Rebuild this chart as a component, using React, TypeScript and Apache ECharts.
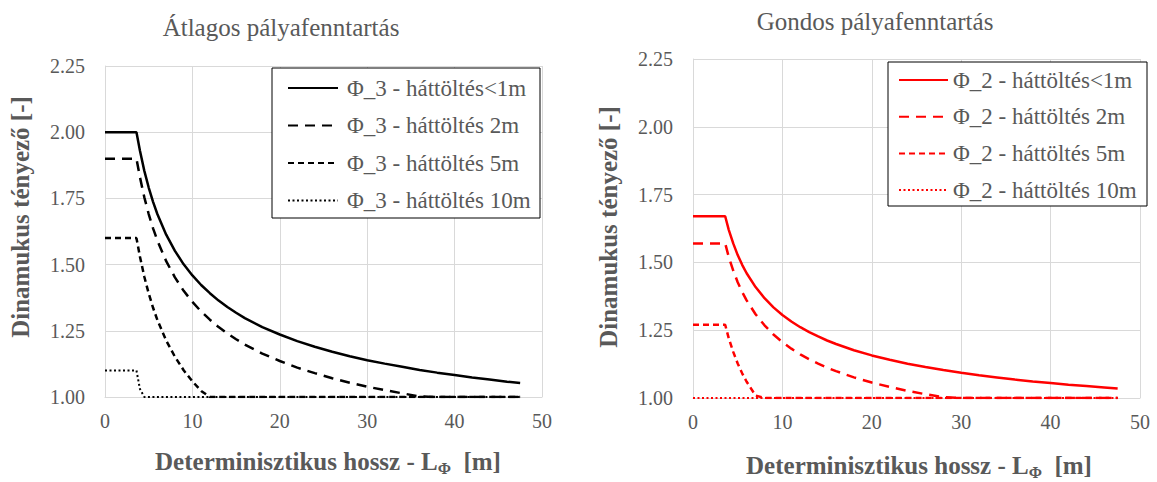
import React, { useEffect, useRef } from "react";
import * as echarts from "echarts";

// Determinisztikus hossz L_Φ [m]
const lengths = [0, 3.6, 4, 4.5, 5, 5.5, 6, 7, 8, 9, 10, 11, 12, 13, 14, 15, 16, 18, 20, 22, 24, 26, 28, 30, 32, 34, 36, 38, 40, 42, 44, 46, 47.5];

// Átlagos pályafenntartás (Φ_3)
const phi3Lt1 = [2.0, 2.0, 1.93, 1.854, 1.791, 1.737, 1.69, 1.613, 1.552, 1.501, 1.459, 1.423, 1.392, 1.364, 1.34, 1.318, 1.298, 1.264, 1.236, 1.211, 1.19, 1.171, 1.154, 1.139, 1.126, 1.114, 1.102, 1.092, 1.083, 1.074, 1.066, 1.058, 1.053];
const phi3H2 = [1.9, 1.9, 1.83, 1.754, 1.691, 1.637, 1.59, 1.513, 1.452, 1.401, 1.359, 1.323, 1.292, 1.264, 1.24, 1.218, 1.198, 1.164, 1.136, 1.111, 1.09, 1.071, 1.054, 1.039, 1.026, 1.014, 1.002, 1.0, 1.0, 1.0, 1.0, 1.0, 1.0];
const phi3H5 = [1.6, 1.6, 1.53, 1.454, 1.391, 1.337, 1.29, 1.213, 1.152, 1.101, 1.059, 1.023, 1.0, 1.0, 1.0, 1.0, 1.0, 1.0, 1.0, 1.0, 1.0, 1.0, 1.0, 1.0, 1.0, 1.0, 1.0, 1.0, 1.0, 1.0, 1.0, 1.0, 1.0];
const phi3H10 = [1.1, 1.1, 1.03, 1.0, 1.0, 1.0, 1.0, 1.0, 1.0, 1.0, 1.0, 1.0, 1.0, 1.0, 1.0, 1.0, 1.0, 1.0, 1.0, 1.0, 1.0, 1.0, 1.0, 1.0, 1.0, 1.0, 1.0, 1.0, 1.0, 1.0, 1.0, 1.0, 1.0];

// Gondos pályafenntartás (Φ_2)
const phi2Lt1 = [1.67, 1.67, 1.62, 1.57, 1.527, 1.491, 1.46, 1.409, 1.368, 1.334, 1.306, 1.282, 1.261, 1.243, 1.227, 1.212, 1.199, 1.176, 1.157, 1.141, 1.126, 1.114, 1.103, 1.093, 1.084, 1.076, 1.068, 1.061, 1.055, 1.049, 1.044, 1.039, 1.035];
const phi2H2 = [1.57, 1.57, 1.52, 1.47, 1.427, 1.391, 1.36, 1.309, 1.268, 1.234, 1.206, 1.182, 1.161, 1.143, 1.127, 1.112, 1.099, 1.076, 1.057, 1.041, 1.026, 1.014, 1.003, 1.0, 1.0, 1.0, 1.0, 1.0, 1.0, 1.0, 1.0, 1.0, 1.0];
const phi2H5 = [1.27, 1.27, 1.22, 1.17, 1.127, 1.091, 1.06, 1.009, 1.0, 1.0, 1.0, 1.0, 1.0, 1.0, 1.0, 1.0, 1.0, 1.0, 1.0, 1.0, 1.0, 1.0, 1.0, 1.0, 1.0, 1.0, 1.0, 1.0, 1.0, 1.0, 1.0, 1.0, 1.0];
const phi2H10 = [1.0, 1.0, 1.0, 1.0, 1.0, 1.0, 1.0, 1.0, 1.0, 1.0, 1.0, 1.0, 1.0, 1.0, 1.0, 1.0, 1.0, 1.0, 1.0, 1.0, 1.0, 1.0, 1.0, 1.0, 1.0, 1.0, 1.0, 1.0, 1.0, 1.0, 1.0, 1.0, 1.0];

const namesLeft = ["Φ_3 - háttöltés<1m", "Φ_3 - háttöltés 2m", "Φ_3 - háttöltés 5m", "Φ_3 - háttöltés 10m"];
const namesRight = ["Φ_2 - háttöltés<1m", "Φ_2 - háttöltés 2m", "Φ_2 - háttöltés 5m", "Φ_2 - háttöltés 10m"];
const titleLeft = "Átlagos pályafenntartás";
const titleRight = "Gondos pályafenntartás";
const yTitle = "Dinamukus tényező [-]";

const FONT = "Liberation Serif";
const GRAY = "#595959";
const GRID = "#d9d9d9";

const dashTypes: any[] = ["solid", [10, 7], [6, 4], [2, 2.5]];
const widths = [2.5, 2.5, 2.5, 2];

export default function App() {
  const ref = useRef<HTMLDivElement>(null);
  useEffect(() => {
    if (!ref.current) return;
    const chart = echarts.init(ref.current, null, { renderer: "svg" });
    const pair = (ys: number[]) => lengths.map((x, i) => [x, ys[i]]);

    const xAxisBase = {
      type: "value",
      min: 0,
      max: 50,
      interval: 10,
      axisLine: { show: true, lineStyle: { color: GRID, width: 1 } },
      axisTick: { show: false },
      axisLabel: { color: GRAY, fontFamily: FONT, fontSize: 20, margin: 14 },
      splitLine: { show: true, lineStyle: { color: GRID, width: 1 } },
    };
    const yAxisBase = {
      type: "value",
      min: 1,
      max: 2.25,
      interval: 0.25,
      axisLine: { show: true, lineStyle: { color: GRID, width: 1 } },
      axisTick: { show: false },
      axisLabel: {
        color: GRAY,
        fontFamily: FONT,
        fontSize: 20,
        margin: 20,
        formatter: (v: number) => v.toFixed(2),
      },
      splitLine: { show: true, lineStyle: { color: GRID, width: 1 } },
    };

    const leftData = [phi3Lt1, phi3H2, phi3H5, phi3H10];
    const rightData = [phi2Lt1, phi2H2, phi2H5, phi2H10];

    const series: any[] = [];
    leftData.forEach((d, i) => {
      series.push({
        type: "line",
        name: namesLeft[i],
        xAxisIndex: 0,
        yAxisIndex: 0,
        data: pair(d),
        symbol: "none",
        lineStyle: { color: "#000000", width: widths[i], type: dashTypes[i] },
        itemStyle: { color: "#000000" },
        z: 5 - i,
      });
    });
    rightData.forEach((d, i) => {
      series.push({
        type: "line",
        name: namesRight[i],
        xAxisIndex: 1,
        yAxisIndex: 1,
        data: pair(d),
        symbol: "none",
        lineStyle: { color: "#ff0000", width: widths[i], type: dashTypes[i] },
        itemStyle: { color: "#ff0000" },
        z: 5 - i,
      });
    });

    const legendText = { color: GRAY, fontFamily: FONT, fontSize: 23, lineHeight: 26, padding: [0, 0, 0, 4] };
    const legendItemStyle = { color: "transparent", borderColor: "transparent", borderWidth: 0, opacity: 0 };

    const xTitleRich = {
      a: { fontFamily: FONT, fontSize: 25, fontWeight: "bold", fill: GRAY, lineHeight: 30 },
      b: { fontFamily: FONT, fontSize: 16, fontWeight: "bold", fill: GRAY, lineHeight: 14, verticalAlign: "bottom" },
    };
    const xTitleText = "{a|Determinisztikus hossz - L}{b|Φ}{a|  [m]}";

    chart.setOption({
      animation: false,
      backgroundColor: "#ffffff",
      textStyle: { fontFamily: FONT },
      grid: [
        { left: 105, top: 66, width: 437, height: 331 },
        { left: 693, top: 59, width: 447, height: 339 },
      ],
      xAxis: [
        { ...xAxisBase, gridIndex: 0 },
        { ...xAxisBase, gridIndex: 1 },
      ],
      yAxis: [
        { ...yAxisBase, gridIndex: 0 },
        { ...yAxisBase, gridIndex: 1 },
      ],
      legend: [
        {
          data: namesLeft,
          orient: "vertical",
          left: 287,
          top: 75,
          padding: 0,
          itemWidth: 50,
          itemHeight: 14,
          itemGap: 11.5,
          itemStyle: legendItemStyle,
          textStyle: legendText,
          selectedMode: false,
          z: 20,
        },
        {
          data: namesRight,
          orient: "vertical",
          left: 898,
          top: 67,
          padding: 0,
          itemWidth: 49,
          itemHeight: 14,
          itemGap: 10.7,
          itemStyle: legendItemStyle,
          textStyle: { ...legendText, padding: [0, 0, 0, 0] },
          selectedMode: false,
          z: 20,
        },
      ],
      graphic: [
        {
          type: "rect",
          z: 10,
          shape: { x: 272, y: 68, width: 268, height: 150 },
          style: { fill: "#ffffff", stroke: "#000000", lineWidth: 1 },
        },
        {
          type: "rect",
          z: 10,
          shape: { x: 888, y: 62, width: 259, height: 144 },
          style: { fill: "#ffffff", stroke: "#000000", lineWidth: 1 },
        },
        {
          type: "text",
          x: 281,
          y: 27,
          style: { text: titleLeft, fontFamily: FONT, fontSize: 25, fill: GRAY, align: "center", verticalAlign: "middle" },
        },
        {
          type: "text",
          x: 875,
          y: 21,
          style: { text: titleRight, fontFamily: FONT, fontSize: 25, fill: GRAY, align: "center", verticalAlign: "middle" },
        },
        {
          type: "text",
          x: 20,
          y: 217,
          rotation: Math.PI / 2,
          style: { text: yTitle, fontFamily: FONT, fontSize: 25, fontWeight: "bold", fill: GRAY, align: "center", verticalAlign: "middle" },
        },
        {
          type: "text",
          x: 608,
          y: 227,
          rotation: Math.PI / 2,
          style: { text: yTitle, fontFamily: FONT, fontSize: 25, fontWeight: "bold", fill: GRAY, align: "center", verticalAlign: "middle" },
        },
        {
          type: "text",
          x: 328,
          y: 461,
          style: { text: xTitleText, rich: xTitleRich, align: "center", verticalAlign: "middle" },
        },
        {
          type: "text",
          x: 919,
          y: 465,
          style: { text: xTitleText, rich: xTitleRich, align: "center", verticalAlign: "middle" },
        },
      ],
      series,
    });
    return () => chart.dispose();
  }, []);

  return (
    <div
      ref={ref}
      style={{ position: "absolute", left: 0, top: 0, width: 1157, height: 482, background: "#ffffff" }}
    />
  );
}
